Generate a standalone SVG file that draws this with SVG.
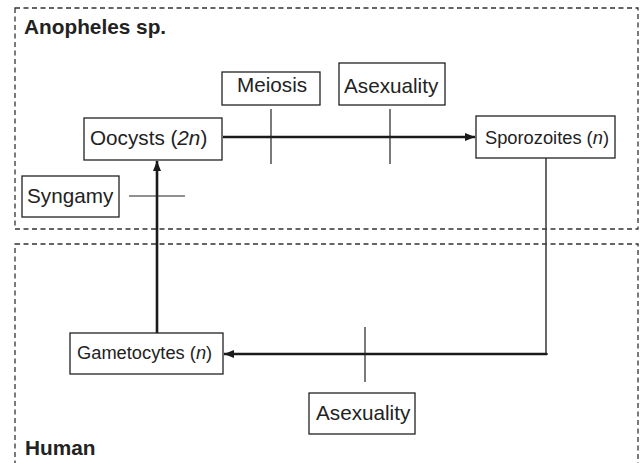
<svg xmlns="http://www.w3.org/2000/svg" width="644" height="463" viewBox="0 0 644 463">
<defs>
<marker id="ah" viewBox="0 0 10 8" refX="10" refY="4" markerWidth="10" markerHeight="8" markerUnits="userSpaceOnUse" orient="auto">
<path d="M0,0 L10,4 L0,8 Z" fill="#1a1a1a"/>
</marker>
<style>
.zone{fill:none;stroke:#333;stroke-width:1.3;stroke-dasharray:5 3.5}
.box{fill:#fff;stroke:#222;stroke-width:1.3}
.t{font-family:"Liberation Sans",Arial,sans-serif;fill:#222;font-size:20.7px}
.s{font-size:18.3px}
.b{font-weight:bold;font-size:20.8px}
.main{fill:none;stroke:#1a1a1a;stroke-width:2.6}
.thin{fill:none;stroke:#444;stroke-width:1.6}
.tick{fill:none;stroke:#222;stroke-width:1.2}
</style>
</defs>
<rect width="644" height="463" fill="#fff"/>
<g id="zone-anopheles">
<rect class="zone" x="15" y="8" width="623" height="221"/>
<text class="t b" x="24" y="34">Anopheles sp.</text>
</g>
<g id="zone-human">
<rect class="zone" x="15" y="244" width="623" height="240"/>
<text class="t b" x="25" y="455">Human</text>
</g>
<g id="connectors">
<line class="main" x1="223" y1="137" x2="475" y2="137" marker-end="url(#ah)"/>
<polyline class="thin" points="546,158 546,354 548,354"/>
<line class="main" x1="547" y1="354" x2="224" y2="354" marker-end="url(#ah)"/>
<line class="main" x1="157" y1="333" x2="157" y2="161" marker-end="url(#ah)"/>
<line class="tick" x1="271" y1="109" x2="271" y2="164"/>
<line class="tick" x1="390" y1="109" x2="390" y2="164"/>
<line class="tick" x1="365" y1="327" x2="365" y2="382"/>
<line class="tick" x1="129" y1="196" x2="185" y2="196"/>
</g>
<g id="oocysts">
<rect class="box" x="84" y="118" width="138" height="42"/>
<text class="t" x="90" y="145">Oocysts (<tspan font-style="italic">2n</tspan>)</text>
</g>
<g id="sporozoites">
<rect class="box" x="476" y="116" width="139" height="42"/>
<text class="t s" x="485" y="144">Sporozoites (<tspan font-style="italic">n</tspan>)</text>
</g>
<g id="gametocytes">
<rect class="box" x="70" y="333" width="153" height="41"/>
<text class="t s" x="77" y="359">Gametocytes (<tspan font-style="italic">n</tspan>)</text>
</g>
<g id="meiosis">
<rect class="box" x="222" y="72" width="98" height="33"/>
<text class="t" x="237" y="92">Meiosis</text>
</g>
<g id="asexuality-top">
<rect class="box" x="339" y="63" width="106" height="42"/>
<text class="t" x="344" y="93">Asexuality</text>
</g>
<g id="syngamy">
<rect class="box" x="22" y="176" width="97" height="41"/>
<text class="t" x="27" y="203">Syngamy</text>
</g>
<g id="asexuality-bottom">
<rect class="box" x="309" y="393" width="106" height="41"/>
<text class="t" x="316" y="420">Asexuality</text>
</g>
</svg>
